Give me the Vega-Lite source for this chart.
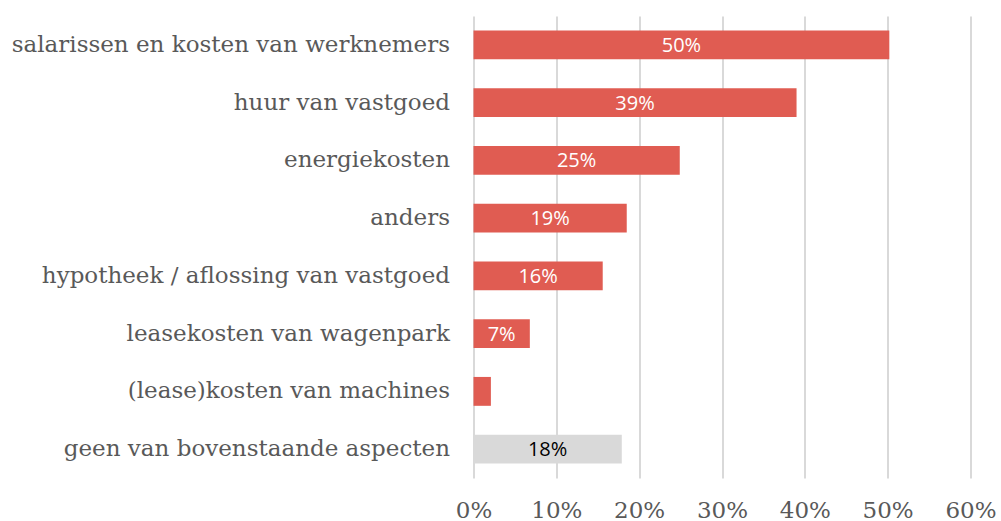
{
  "$schema": "https://vega.github.io/schema/vega-lite/v6.json",
  "autosize": "none",
  "width": 497,
  "height": 462,
  "padding": {"left": 473.5, "top": 16, "right": 30.5, "bottom": 43},
  "background": "white",
  "config": {"view": {"stroke": null}},
  "data": {
    "values": [
      {"aspect": "salarissen en kosten van werknemers", "value": 50.2, "label": "50%", "group": "main"},
      {"aspect": "huur van vastgoed", "value": 39.0, "label": "39%", "group": "main"},
      {"aspect": "energiekosten", "value": 24.9, "label": "25%", "group": "main"},
      {"aspect": "anders", "value": 18.5, "label": "19%", "group": "main"},
      {"aspect": "hypotheek / aflossing van vastgoed", "value": 15.6, "label": "16%", "group": "main"},
      {"aspect": "leasekosten van wagenpark", "value": 6.8, "label": "7%", "group": "main"},
      {"aspect": "(lease)kosten van machines", "value": 2.1, "label": "", "group": "main"},
      {"aspect": "geen van bovenstaande aspecten", "value": 17.9, "label": "18%", "group": "none"}
    ]
  },
  "transform": [{"calculate": "datum.value / 2", "as": "mid"}],
  "encoding": {
    "y": {
      "field": "aspect",
      "type": "nominal",
      "sort": null,
      "scale": {"paddingInner": 0.5, "paddingOuter": 0.25},
      "axis": {
        "title": null,
        "domain": false,
        "ticks": false,
        "labelFont": "DejaVu Serif",
        "labelFontSize": 23,
        "labelColor": "#595959",
        "labelPadding": 24,
        "labelLimit": 600
      }
    }
  },
  "layer": [
    {
      "mark": {"type": "bar"},
      "encoding": {
        "x": {
          "field": "value",
          "type": "quantitative",
          "scale": {"domain": [0, 60], "nice": false},
          "axis": {
            "title": null,
            "values": [0, 10, 20, 30, 40, 50, 60],
            "labelExpr": "datum.value + '%'",
            "domain": false,
            "ticks": false,
            "grid": true,
            "gridColor": "#d9d9d9",
            "gridWidth": 2,
            "labelFont": "DejaVu Serif",
            "labelFontSize": 23,
            "labelColor": "#595959",
            "labelPadding": 21,
            "labelFlush": false
          }
        },
        "color": {
          "field": "group",
          "type": "nominal",
          "scale": {"domain": ["main", "none"], "range": ["#e05c52", "#d9d9d9"]},
          "legend": null
        }
      }
    },
    {
      "mark": {"type": "text", "font": "Open Sans", "fontSize": 20, "baseline": "middle", "align": "center", "dy": 1},
      "encoding": {
        "x": {"field": "mid", "type": "quantitative"},
        "text": {"field": "label"},
        "color": {
          "field": "group",
          "type": "nominal",
          "scale": {"domain": ["main", "none"], "range": ["#ffffff", "#000000"]},
          "legend": null
        }
      }
    }
  ],
  "resolve": {"scale": {"color": "independent"}}
}
